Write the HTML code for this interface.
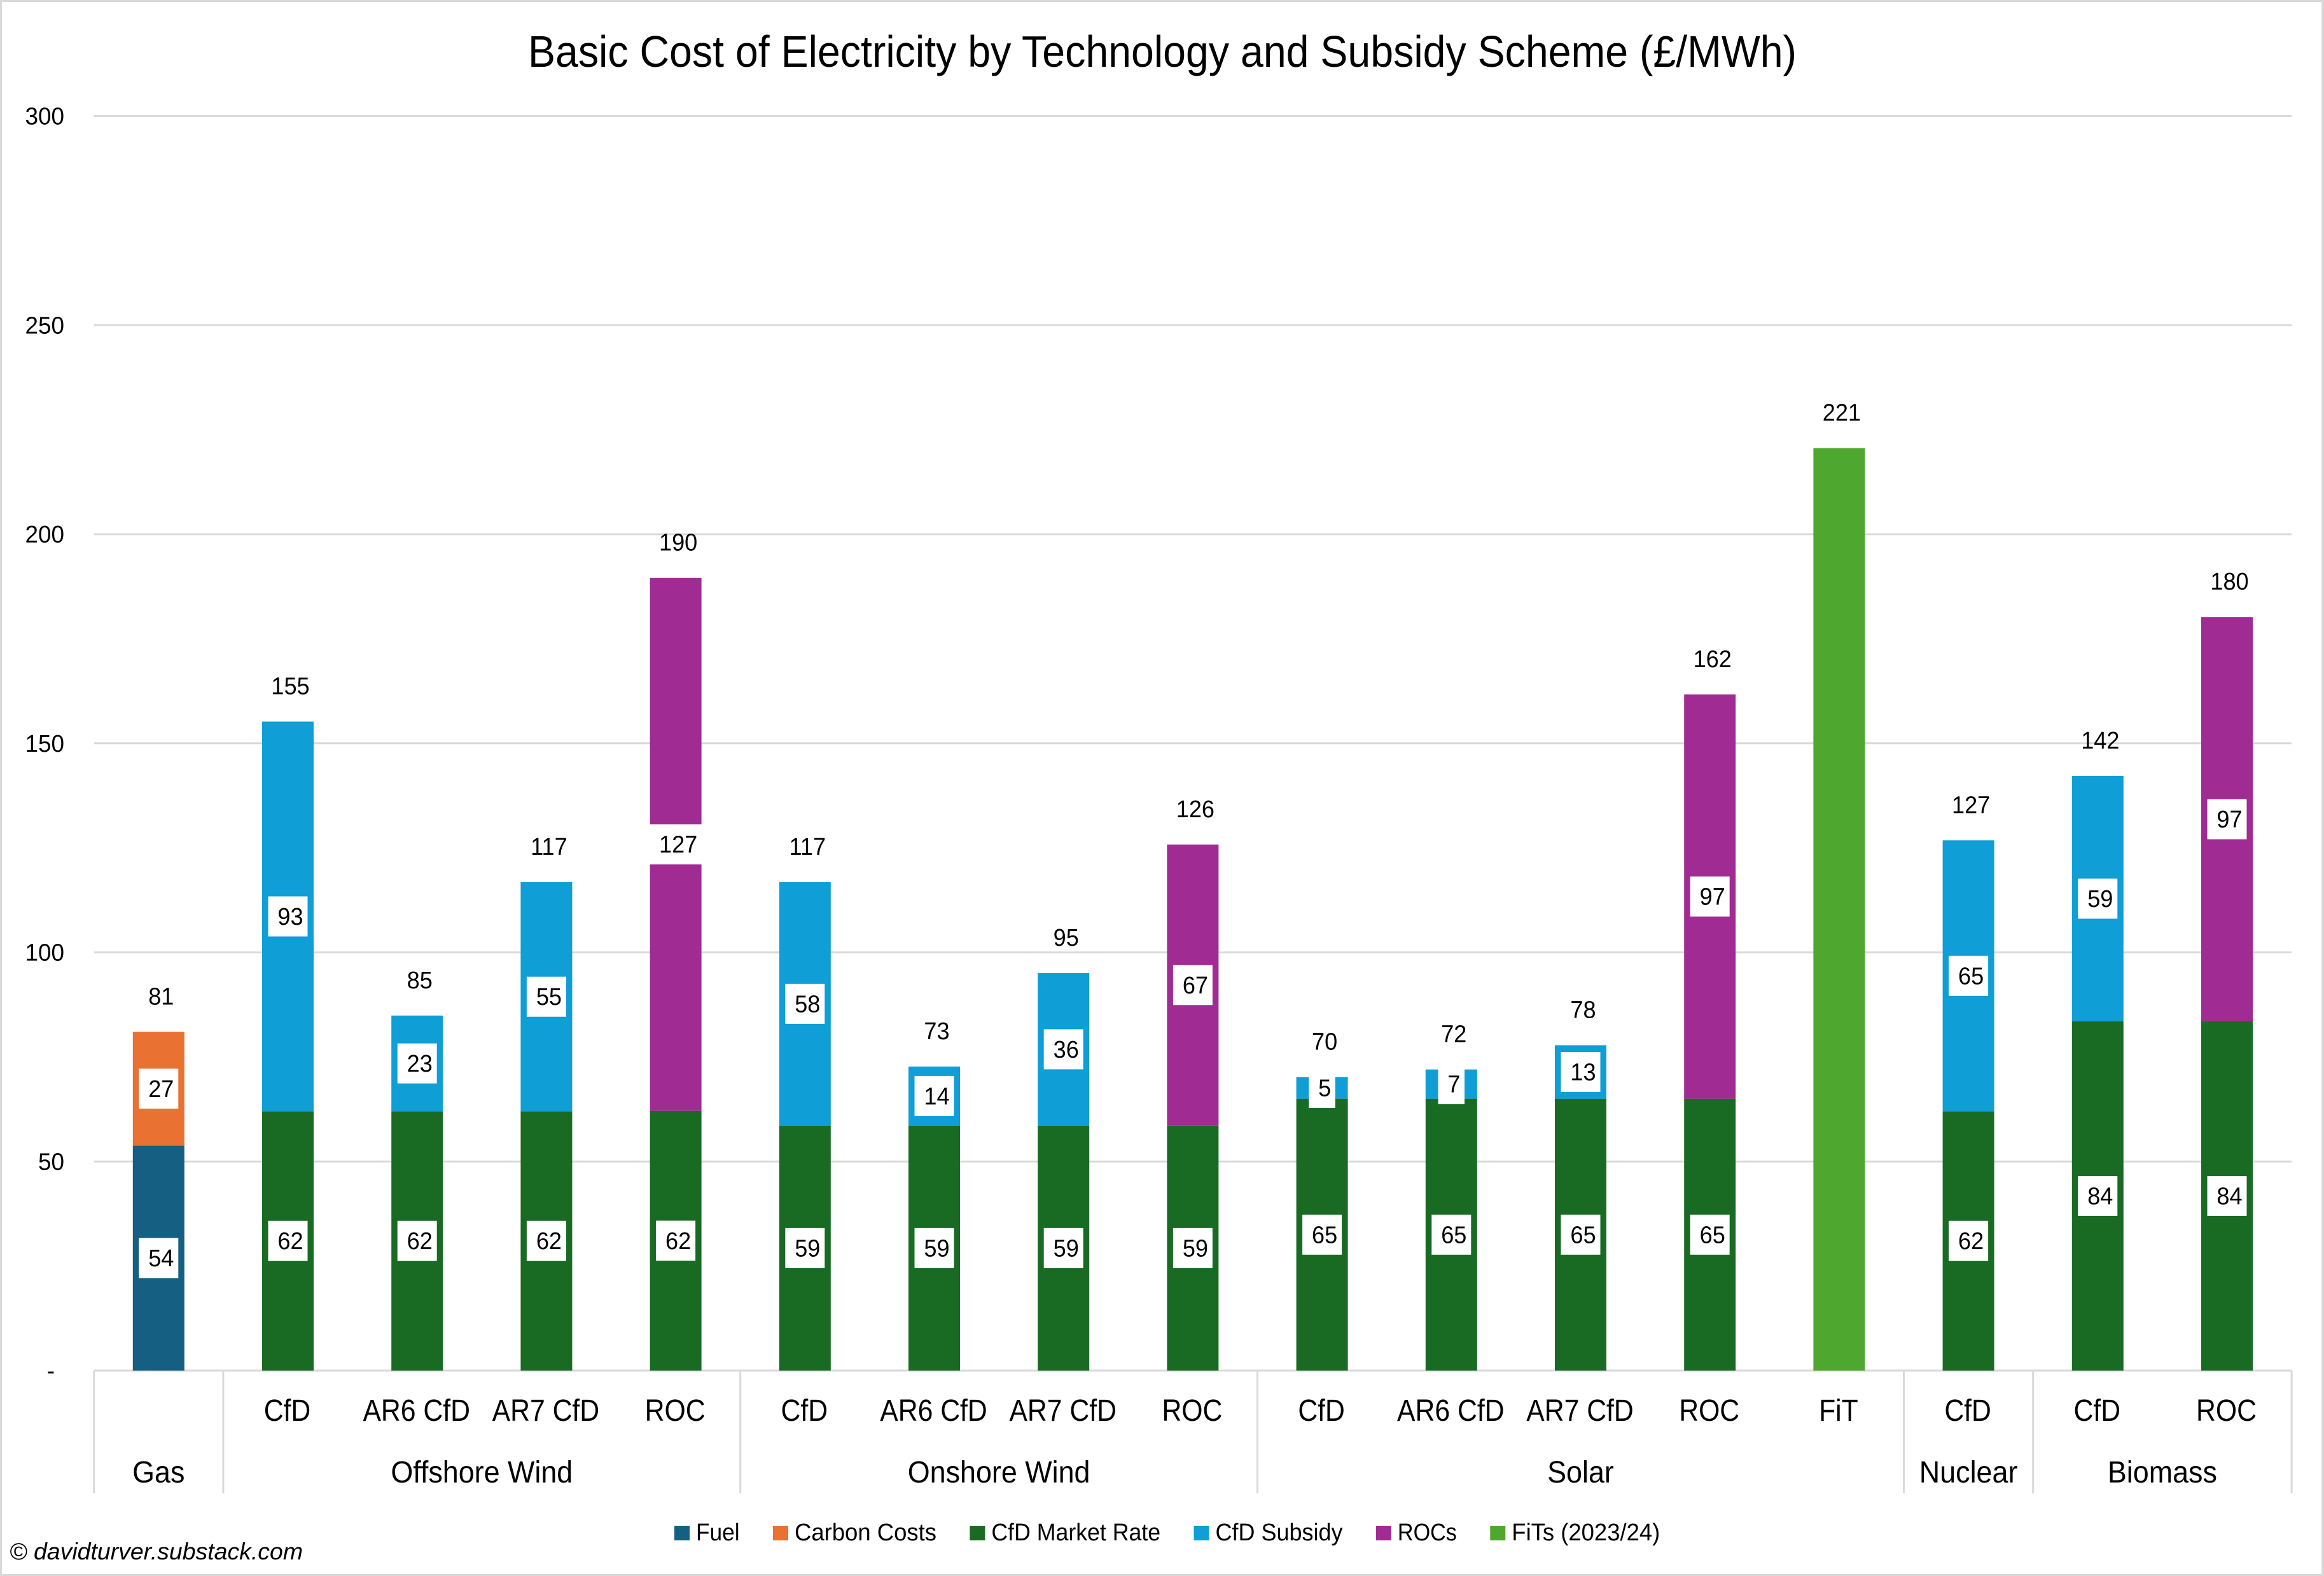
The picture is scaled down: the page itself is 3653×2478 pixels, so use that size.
<!DOCTYPE html>
<html lang="en">
<head>
<meta charset="utf-8">
<title>Basic Cost of Electricity by Technology and Subsidy Scheme</title>
<style>
html,body{margin:0;padding:0;background:#fff;width:3653px;height:2478px;overflow:hidden}
svg{display:block}
text{font-family:"Liberation Sans",sans-serif;fill:#000}
</style>
</head>
<body>
<svg id="chart" xmlns="http://www.w3.org/2000/svg" width="3653" height="2478" viewBox="0 0 3653 2478">
  <rect x="0" y="0" width="3653" height="2478" fill="#d9d9d9"/>
  <rect x="3" y="3" width="3646" height="2472" fill="#ffffff"/>
  <text x="1827" y="105" text-anchor="middle" font-size="70" textLength="1994" lengthAdjust="spacingAndGlyphs">Basic Cost of Electricity by Technology and Subsidy Scheme (£/MWh)</text>
  <text x="15" y="2452" font-size="37" font-style="italic" textLength="461" lengthAdjust="spacingAndGlyphs">© davidturver.substack.com</text>
  <g id="grid"></g>
  <g id="yaxis"></g>
  <g id="xaxis"></g>
  <g id="bars"></g>
  <g id="labels"></g>
  <g id="legend"></g>
</svg>
<script>
const tickValues = [0, 50, 100, 150, 200, 250, 300];
const groupNames = ['Gas', 'Offshore Wind', 'Onshore Wind', 'Solar', 'Nuclear', 'Biomass'];
const groupSizes = [1, 4, 4, 5, 1, 2];
const categories = ['', 'CfD', 'AR6 CfD', 'AR7 CfD', 'ROC', 'CfD', 'AR6 CfD', 'AR7 CfD', 'ROC', 'CfD', 'AR6 CfD', 'AR7 CfD', 'ROC', 'FiT', 'CfD', 'CfD', 'ROC'];
const fuel =    [53.8, 0, 0, 0, 0, 0, 0, 0, 0, 0, 0, 0, 0, 0, 0, 0, 0];
const carbon =  [27.2, 0, 0, 0, 0, 0, 0, 0, 0, 0, 0, 0, 0, 0, 0, 0, 0];
const market =  [0, 62, 62, 62, 62.1, 58.6, 58.6, 58.6, 58.6, 65, 65, 65, 65, 0, 62, 83.5, 83.5];
const subsidy = [0, 93.2, 22.9, 54.8, 0, 58.2, 14.1, 36.45, 0, 5.2, 7, 12.8, 0, 0, 64.8, 58.7, 0];
const rocs =    [0, 0, 0, 0, 127.45, 0, 0, 0, 67.2, 0, 0, 0, 96.7, 0, 0, 0, 96.7];
const fits =    [0, 0, 0, 0, 0, 0, 0, 0, 0, 0, 0, 0, 0, 220.6, 0, 0, 0];
const seriesNames = ['Fuel', 'Carbon Costs', 'CfD Market Rate', 'CfD Subsidy', 'ROCs', 'FiTs (2023/24)'];
const seriesValues = [fuel, carbon, market, subsidy, rocs, fits];
const seriesColors = ['#156082', '#E97132', '#196B24', '#0F9ED5', '#A02B93', '#4EA72E'];
const legendTextWidths = [68.6, 223, 265.7, 200, 93, 233];

const NS = 'http://www.w3.org/2000/svg';
const AXIS_LEFT = 147.7, AXIS_ZERO = 2155, BAND = 203.2, PX_PER_UNIT = 6.575, BAR_W = 81;
const GRID = '#D9D9D9';
function yScale(v) { return AXIS_ZERO - v * PX_PER_UNIT; }
function xBand(i) { return AXIS_LEFT + BAND * i; }
function xCenter(i) { return xBand(i) + BAND / 2; }
function rect(parent, x, y, w, h, fill) {
  const el = document.createElementNS(NS, 'rect');
  el.setAttribute('x', x);
  el.setAttribute('y', y);
  el.setAttribute('width', w);
  el.setAttribute('height', h);
  el.setAttribute('fill', fill);
  parent.appendChild(el);
  return el;
}
function label(parent, str, x, y, size, sx, anchor) {
  const el = document.createElementNS(NS, 'text');
  el.setAttribute('transform', 'translate(' + x + ',' + y + ') scale(' + sx + ',1)');
  el.setAttribute('font-size', size);
  el.setAttribute('text-anchor', anchor);
  el.textContent = str;
  parent.appendChild(el);
  return el;
}
const gridG = document.getElementById('grid');
const yG = document.getElementById('yaxis');
const xG = document.getElementById('xaxis');
const barsG = document.getElementById('bars');
const labelsG = document.getElementById('labels');
const legendG = document.getElementById('legend');
const xEnd = xBand(categories.length);

tickValues.forEach(function (t) {
  const line = rect(gridG, AXIS_LEFT, yScale(t) - 1.5, xEnd - AXIS_LEFT, 3, GRID);
  
  
  const tick = label(yG, t === 0 ? '-' : String(t), t === 0 ? 86 : 101, yScale(t) + 13, 38, 0.97, 'end');
  
  
});

let cursor = 0;
groupNames.forEach(function (name, g) {
  const sep = rect(xG, xBand(cursor) - 1.5, AXIS_ZERO, 3, 193, GRID);
  
  
  const mid = xBand(cursor + groupSizes[g] / 2);
  const gl = label(xG, name, mid, 2331, 48, 0.935, 'middle');
  
  
  cursor += groupSizes[g];
});
const lastSep = rect(xG, xEnd - 1.5, AXIS_ZERO, 3, 193, GRID);



categories.forEach(function (cat, i) {
  if (cat) {
    const cl = label(xG, cat, xCenter(i) - 1, 2234, 48, 0.89, 'middle');
    
    
  }
  let base = 0;
  seriesValues.forEach(function (vals, s) {
    const v = vals[i];
    if (!v) return;
    const seg = rect(barsG, xCenter(i) - BAR_W / 2, yScale(base + v), BAR_W, v * PX_PER_UNIT, seriesColors[s]);
    
    
    if (seriesValues[s] !== fits) {
      const txt = String(Math.round(v));
      const cy = yScale(base + v / 2);
      const w = txt.length * 20.5 + 21;
      const box = rect(labelsG, xCenter(i) - w / 2, cy - 31.5, w, 63, '#ffffff');
      
      
      const t = label(labelsG, txt, xCenter(i) + 4, cy + 13, 38, 0.95, 'middle');
      
      
    }
    base += v;
  });
  const total = label(labelsG, String(Math.round(base)), xCenter(i) + 4, yScale(base) - 43, 38, 0.95, 'middle');
  
  
});

let lx = 1060;
seriesNames.forEach(function (name, s) {
  const sw = rect(legendG, lx, 2399, 24, 23, seriesColors[s]);
  
  
  const t = label(legendG, name, lx + 34, 2422, 38, 1, 'start');
  t.setAttribute('textLength', legendTextWidths[s]);
  t.setAttribute('lengthAdjust', 'spacingAndGlyphs');
  
  
  lx += 34 + legendTextWidths[s] + 52.4;
});
</script>
</body>
</html>
